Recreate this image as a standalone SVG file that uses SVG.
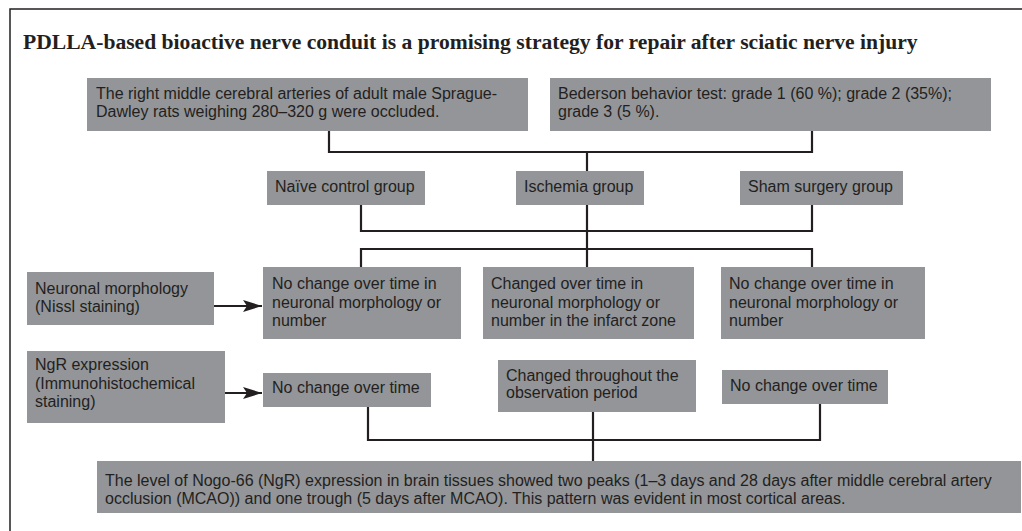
<svg xmlns="http://www.w3.org/2000/svg" width="1022" height="531" viewBox="0 0 1022 531">
<defs>
<style>
.box{fill:#939598;}
.t{font-family:"Liberation Sans",Arial,sans-serif;font-size:16px;fill:#231f20;}
.title{font-family:"Liberation Serif","Times New Roman",serif;font-weight:bold;font-size:21.6px;fill:#231f20;}
.c{fill:none;stroke:#231f20;stroke-width:2.2;}
.frame{fill:none;stroke:#231f20;stroke-width:1.5;}
</style>
<marker id="ah" markerWidth="20" markerHeight="12" refX="19" refY="6" orient="auto" markerUnits="userSpaceOnUse">
<path d="M0,0 L19,6 L0,12 L4,6 Z" fill="#231f20"/>
</marker>
</defs>
<rect width="1022" height="531" fill="#ffffff"/>
<path class="frame" d="M10,531 V9 H1022"/>
<text class="title" x="23" y="49">PDLLA-based bioactive nerve conduit is a promising strategy for repair after sciatic nerve injury</text>

<g id="connectors">
<path class="c" d="M329,131 V152 H812 V131"/>
<path class="c" d="M587,152 V171"/>
<path class="c" d="M361,205 V231 H812 V205"/>
<path class="c" d="M587,205 V267"/>
<path class="c" d="M361,267 V249 H812 V267"/>
<path class="c" d="M214,306 H262" marker-end="url(#ah)"/>
<path class="c" d="M225,393 H262" marker-end="url(#ah)"/>
<path class="c" d="M368,407 V440 H820 V404"/>
<path class="c" d="M593,412 V461"/>
</g>

<g id="n-rats">
<rect class="box" x="87" y="78" width="441" height="53"/>
<text class="t" x="96" y="99">The right middle cerebral arteries of adult male Sprague-</text>
<text class="t" x="96" y="117">Dawley rats weighing 280–320 g were occluded.</text>
</g>
<g id="n-bederson">
<rect class="box" x="550" y="78" width="441" height="53"/>
<text class="t" x="558" y="99">Bederson behavior test: grade 1 (60 %); grade 2 (35%);</text>
<text class="t" x="558" y="117">grade 3 (5 %).</text>
</g>
<g id="n-naive">
<rect class="box" x="267" y="171" width="158" height="34"/>
<text class="t" x="275" y="192">Naïve control group</text>
</g>
<g id="n-ischemia">
<rect class="box" x="516" y="171" width="128" height="34"/>
<text class="t" x="524" y="192">Ischemia group</text>
</g>
<g id="n-sham">
<rect class="box" x="740" y="171" width="163" height="34"/>
<text class="t" x="748" y="192">Sham surgery group</text>
</g>
<g id="n-neuronal">
<rect class="box" x="27" y="272" width="187" height="53"/>
<text class="t" x="35" y="294">Neuronal morphology</text>
<text class="t" x="35" y="312">(Nissl staining)</text>
</g>
<g id="n-resA">
<rect class="box" x="263" y="267" width="198" height="72"/>
<text class="t" x="272" y="289">No change over time in</text>
<text class="t" x="272" y="307.5">neuronal morphology or</text>
<text class="t" x="272" y="326">number</text>
</g>
<g id="n-resB">
<rect class="box" x="483" y="267" width="211" height="72"/>
<text class="t" x="491" y="289">Changed over time in</text>
<text class="t" x="491" y="307.5">neuronal morphology or</text>
<text class="t" x="491" y="326">number in the infarct zone</text>
</g>
<g id="n-resC">
<rect class="box" x="721" y="267" width="204" height="72"/>
<text class="t" x="729" y="289">No change over time in</text>
<text class="t" x="729" y="307.5">neuronal morphology or</text>
<text class="t" x="729" y="326">number</text>
</g>
<g id="n-ngr">
<rect class="box" x="27" y="351" width="198" height="72"/>
<text class="t" x="35" y="370">NgR expression</text>
<text class="t" x="35" y="388.5">(Immunohistochemical</text>
<text class="t" x="35" y="407">staining)</text>
</g>
<g id="n-ngrA">
<rect class="box" x="263" y="373" width="168" height="34"/>
<text class="t" x="272" y="393">No change over time</text>
</g>
<g id="n-ngrB">
<rect class="box" x="498" y="360" width="198" height="52"/>
<text class="t" x="506" y="381">Changed throughout the</text>
<text class="t" x="506" y="398">observation period</text>
</g>
<g id="n-ngrC">
<rect class="box" x="722" y="370" width="166" height="34"/>
<text class="t" x="730" y="391">No change over time</text>
</g>
<g id="n-final">
<rect class="box" x="97" y="461" width="924" height="52"/>
<text class="t" x="105" y="486">The level of Nogo-66 (NgR) expression in brain tissues showed two peaks (1–3 days and 28 days after middle cerebral artery</text>
<text class="t" x="105" y="503.5">occlusion (MCAO)) and one trough (5 days after MCAO). This pattern was evident in most cortical areas.</text>
</g>
</svg>
